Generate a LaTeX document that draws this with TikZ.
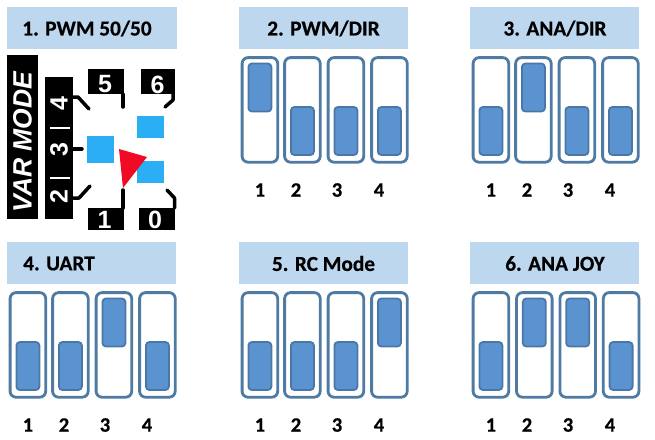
\documentclass[tikz,border=0pt]{standalone}
\usepackage{fontspec}
\setmainfont{Carlito}
\newfontfamily\arialfont{Liberation Sans}
\newfontfamily\heavyfont[FakeBold=0.5]{Carlito Bold}
\definecolor{hdr}{HTML}{BDD7EE}
\definecolor{slotline}{HTML}{4F7BA3}
\definecolor{knobfill}{HTML}{5B93D0}
\definecolor{knobline}{HTML}{4A78A6}
\definecolor{skyblue}{HTML}{2BAEF3}
\definecolor{redtri}{HTML}{F00A24}
\tikzset{
  header/.style={fill=hdr,minimum width=169pt,minimum height=42pt,inner sep=0pt,anchor=north west},
  title/.style={font=\heavyfont\fontsize{21.3}{21.3}\selectfont,text=black,inner sep=0pt},
  slotbox/.style={draw=slotline,line width=2.8pt,fill=white,rounded corners=6pt,minimum width=35.6pt,minimum height=104.6pt,inner sep=0pt,anchor=north west},
  knob/.style={draw=knobline,line width=1.8pt,fill=knobfill,rounded corners=3.5pt,minimum width=23pt,minimum height=48pt,inner sep=0pt},
  numlabel/.style={font=\heavyfont\fontsize{20.5}{20.5}\selectfont,text=black,inner sep=0pt},
  blackbox/.style={fill=black,inner sep=0pt,anchor=north west},
  whitetxt/.style={font=\arialfont\bfseries\fontsize{25}{25}\selectfont,text=white,inner sep=0pt},
  bluesq/.style={fill=skyblue,inner sep=0pt,anchor=north west},
  leader/.style={draw=black,line width=3.5pt,line cap=round,line join=round},
  sepline/.style={draw=white,line width=1.8pt},
}
% #1 id, #2 left x, #3 top y, #4 slot number with raised knob
\newcommand{\dipset}[4]{%
  \foreach \i/\dx/\lx in {1/1.7/21, 2/44.2/57, 3/87.7/98, 4/131.2/140}{%
    \node[slotbox] (s#1\i) at (#2+\dx,#3+.2) {};
    \ifnum\i=#4\relax
      \node[knob] (k#1\i) at (s#1\i.center |- 0,#3+31.5) {};
    \else
      \node[knob] (k#1\i) at (s#1\i.center |- 0,#3+75) {};
    \fi
    \node[numlabel] (n#1\i) at (#2+\lx,#3+134) {\i};
  }%
}
\begin{document}
\begin{tikzpicture}[x=1pt,y=-1pt]
\useasboundingbox (0,0) rectangle (655,439);
\fill[white] (0,0) rectangle (655,439);

% headers
\node[header,minimum width=170pt] (h1) at (7,7) {};
\node[title] (t1) at (87,28.5) {1. PWM 50/50};
\node[header] (h2) at (239,7) {};
\node[title] (t2) at (323.5,28.5) {2. PWM/DIR};
\node[header] (h3) at (470,7) {};
\node[title] (t3) at (555,28.5) {3. ANA/DIR};
\node[header] (h4) at (7,242) {};
\node[title] (t4) at (59,263.5) {4. UART};
\node[header] (h5) at (239,242) {};
\node[title] (t5) at (323.5,263.5) {5. RC Mode};
\node[header] (h6) at (470,242) {};
\node[title] (t6) at (555,263.5) {6. ANA JOY};

% DIP switches
\dipset{b}{239}{56}{1}
\dipset{c}{470}{56}{2}
\dipset{d}{7}{291}{3}
\dipset{e}{239}{291}{4}
\foreach \i/\lx in {1/21, 2/57, 3/98, 4/140}{%
  \node[slotbox] (sf\i) at (470+\i*43.4-41.7,291.2) {};
  \node[numlabel] (nf\i) at (470+\lx,425) {\i};
}
\node[knob] (kf1) at (sf1.center |- 0,366) {};
\node[knob] (kf2) at (sf2.center |- 0,322.5) {};
\node[knob] (kf3) at (sf3.center |- 0,322.5) {};
\node[knob] (kf4) at (sf4.center |- 0,366) {};

% panel 1
\node[blackbox,minimum width=30.5pt,minimum height=164pt] (vm) at (7,55) {};
\node[whitetxt,rotate=90,font=\arialfont\bfseries\itshape\fontsize{26.5}{26.5}\selectfont] (vmt) at (22.5,142) {VAR MODE};
\node[blackbox,minimum width=28pt,minimum height=142pt] (bar) at (45,77) {};
\node[whitetxt,rotate=90] (d4) at (59,104) {4};
\node[whitetxt,rotate=90] (d3) at (59,150) {3};
\node[whitetxt,rotate=90] (d2) at (59,197) {2};
\draw[sepline] (50,128) -- (70,128);
\draw[sepline] (50,178) -- (70,178);

\node[blackbox,minimum width=36pt,minimum height=25pt] (b5) at (88,69) {};
\node[whitetxt] (l5) at (105,84.5) {5};
\node[blackbox,minimum width=34pt,minimum height=25pt] (b6) at (141,69) {};
\node[whitetxt] (l6) at (157.5,84.5) {6};
\node[blackbox,minimum width=36pt,minimum height=22pt] (b1) at (88,208) {};
\node[whitetxt] (l1) at (104.5,220) {1};
\node[blackbox,minimum width=36pt,minimum height=22pt] (b0) at (139,208) {};
\node[whitetxt] (l0) at (155,220) {0};

\node[bluesq,minimum width=27pt,minimum height=27pt] (qa) at (87,136) {};
\node[bluesq,minimum width=27pt,minimum height=22pt] (qb) at (137,116) {};
\node[bluesq,minimum width=27pt,minimum height=22pt] (qc) at (137,161) {};

\coordinate (e5) at (123,107);
\coordinate (e6) at (165,107);
\coordinate (e4) at (89,109);
\coordinate (e3) at (82,149);
\coordinate (e2) at (90,186);
\coordinate (e1) at (123,190);
\coordinate (e0) at (167,190);

\draw[leader] (b5.south east -| e5) -- (e5);
\draw[leader] (173,94) -- (173,100) -- (e6);
\draw[leader] (bar.east |- 0,97) -- (78,97) -- (e4);
\draw[leader] (bar.east |- 0,149) -- (e3);
\draw[leader] (bar.east |- 0,198) -- (79,198) -- (e2);
\draw[leader] (e1) -- (e1 |- b1.north);
\draw[leader] (e0) -- (174.5,198) -- (174.5,208);

\fill[redtri] (119,149) -- (147,157) -- (123,188) -- cycle;
\end{tikzpicture}
\end{document}
